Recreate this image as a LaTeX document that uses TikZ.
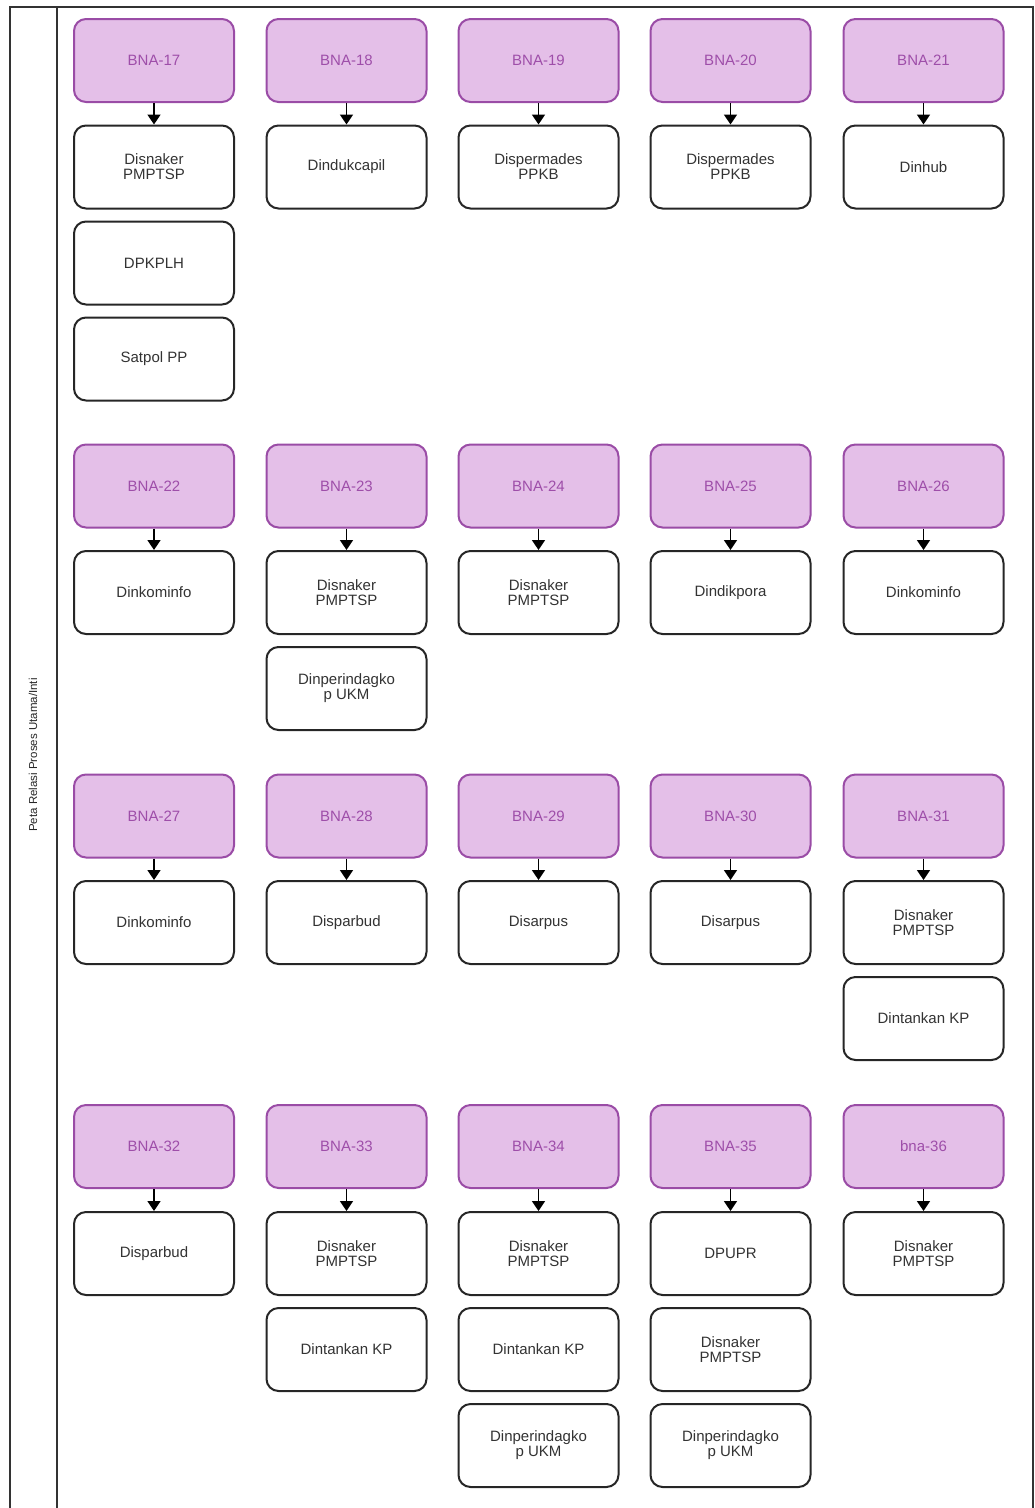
\documentclass[tikz,border=0pt]{standalone}
\usepackage{fontspec}
\setmainfont{Liberation Sans}
\usetikzlibrary{arrows.meta}
\definecolor{ungu}{HTML}{E4BFE8}
\definecolor{unguTepi}{HTML}{9A4CA6}
\definecolor{unguTeks}{HTML}{9E4EA9}
\tikzset{
  bna/.style={draw=unguTepi,fill=ungu,line width=2pt,rounded corners=12pt,minimum width=160pt,minimum height=83pt,text=unguTeks,font=\fontsize{15}{15}\selectfont},
  opd/.style={draw=black!85,fill=white,line width=2pt,rounded corners=12pt,minimum width=160pt,minimum height=83pt,align=center,text=black!80,font=\fontsize{15}{15}\selectfont},
  panah/.style={-{Triangle[width=13pt,length=10pt]},line width=1.6pt}
}
\begin{document}
\begin{tikzpicture}[x=1pt,y=-1pt]
            \def\ka{154}\def\kb{346.5}\def\kc{538.5}\def\kd{730.5}\def\ke{923.5}%kolom
            \useasboundingbox (0,0) rectangle (1035,1508);
            \draw[line width=2pt,black!80] (10,1508) -- (10,7) -- (1033,7) -- (1033,1508); %bingkai luar
            \draw[line width=2pt,black!80] (57,7) -- (57,1508); %pemisah lajur
            \node[rotate=90,text=black!85,font=\fontsize{11.5}{12}\selectfont] (lajur) at (33,755) {Peta Relasi Proses Utama/Inti};
            %baris 1
            \node[bna] (b17) at (\ka,60.5) {BNA-17};
            \node[opd] (o17a) at (\ka,167) {Disnaker\\PMPTSP};
            \node[opd] (o17b) at (\ka,263) {DPKPLH};
            \node[opd] (o17c) at (\ka,359) {Satpol PP};
            \node[bna] (b18) at (\kb,60.5) {BNA-18};
            \node[opd] (o18a) at (\kb,167) {Dindukcapil};
            \node[bna] (b19) at (\kc,60.5) {BNA-19};
            \node[opd] (o19a) at (\kc,167) {Dispermades\\PPKB};
            \node[bna] (b20) at (\kd,60.5) {BNA-20};
            \node[opd] (o20a) at (\kd,167) {Dispermades\\PPKB};
            \node[bna] (b21) at (\ke,60.5) {BNA-21};
            \node[opd] (o21a) at (\ke,167) {Dinhub};
            %baris 2
            \node[bna] (b22) at (\ka,486) {BNA-22};
            \node[opd] (o22a) at (\ka,592.5) {Dinkominfo};
            \node[bna] (b23) at (\kb,486) {BNA-23};
            \node[opd] (o23a) at (\kb,592.5) {Disnaker\\PMPTSP};
            \node[opd] (o23b) at (\kb,688.5) {Dinperindagko\\p UKM};
            \node[bna] (b24) at (\kc,486) {BNA-24};
            \node[opd] (o24a) at (\kc,592.5) {Disnaker\\PMPTSP};
            \node[bna] (b25) at (\kd,486) {BNA-25};
            \node[opd] (o25a) at (\kd,592.5) {Dindikpora};
            \node[bna] (b26) at (\ke,486) {BNA-26};
            \node[opd] (o26a) at (\ke,592.5) {Dinkominfo};
            %baris 3
            \node[bna] (b27) at (\ka,816) {BNA-27};
            \node[opd] (o27a) at (\ka,922.5) {Dinkominfo};
            \node[bna] (b28) at (\kb,816) {BNA-28};
            \node[opd] (o28a) at (\kb,922.5) {Disparbud};
            \node[bna] (b29) at (\kc,816) {BNA-29};
            \node[opd] (o29a) at (\kc,922.5) {Disarpus};
            \node[bna] (b30) at (\kd,816) {BNA-30};
            \node[opd] (o30a) at (\kd,922.5) {Disarpus};
            \node[bna] (b31) at (\ke,816) {BNA-31};
            \node[opd] (o31a) at (\ke,922.5) {Disnaker\\PMPTSP};
            \node[opd] (o31b) at (\ke,1018.5) {Dintankan KP};
            %baris 4
            \node[bna] (b32) at (\ka,1146.5) {BNA-32};
            \node[opd] (o32a) at (\ka,1253.5) {Disparbud};
            \node[bna] (b33) at (\kb,1146.5) {BNA-33};
            \node[opd] (o33a) at (\kb,1253.5) {Disnaker\\PMPTSP};
            \node[opd] (o33b) at (\kb,1349.5) {Dintankan KP};
            \node[bna] (b34) at (\kc,1146.5) {BNA-34};
            \node[opd] (o34a) at (\kc,1253.5) {Disnaker\\PMPTSP};
            \node[opd] (o34b) at (\kc,1349.5) {Dintankan KP};
            \node[opd] (o34c) at (\kc,1445.5) {Dinperindagko\\p UKM};
            \node[bna] (b35) at (\kd,1146.5) {BNA-35};
            \node[opd] (o35a) at (\kd,1253.5) {DPUPR};
            \node[opd] (o35b) at (\kd,1349.5) {Disnaker\\PMPTSP};
            \node[opd] (o35c) at (\kd,1445.5) {Dinperindagko\\p UKM};
            \node[bna] (b36) at (\ke,1146.5) {bna-36};
            \node[opd] (o36a) at (\ke,1253.5) {Disnaker\\PMPTSP};
            %panah
            \draw[panah] (b17) -- (o17a);
            \draw[panah] (b18) -- (o18a);
            \draw[panah] (b19) -- (o19a);
            \draw[panah] (b20) -- (o20a);
            \draw[panah] (b21) -- (o21a);
            \draw[panah] (b22) -- (o22a);
            \draw[panah] (b23) -- (o23a);
            \draw[panah] (b24) -- (o24a);
            \draw[panah] (b25) -- (o25a);
            \draw[panah] (b26) -- (o26a);
            \draw[panah] (b27) -- (o27a);
            \draw[panah] (b28) -- (o28a);
            \draw[panah] (b29) -- (o29a);
            \draw[panah] (b30) -- (o30a);
            \draw[panah] (b31) -- (o31a);
            \draw[panah] (b32) -- (o32a);
            \draw[panah] (b33) -- (o33a);
            \draw[panah] (b34) -- (o34a);
            \draw[panah] (b35) -- (o35a);
            \draw[panah] (b36) -- (o36a);
\end{tikzpicture}
\end{document}
